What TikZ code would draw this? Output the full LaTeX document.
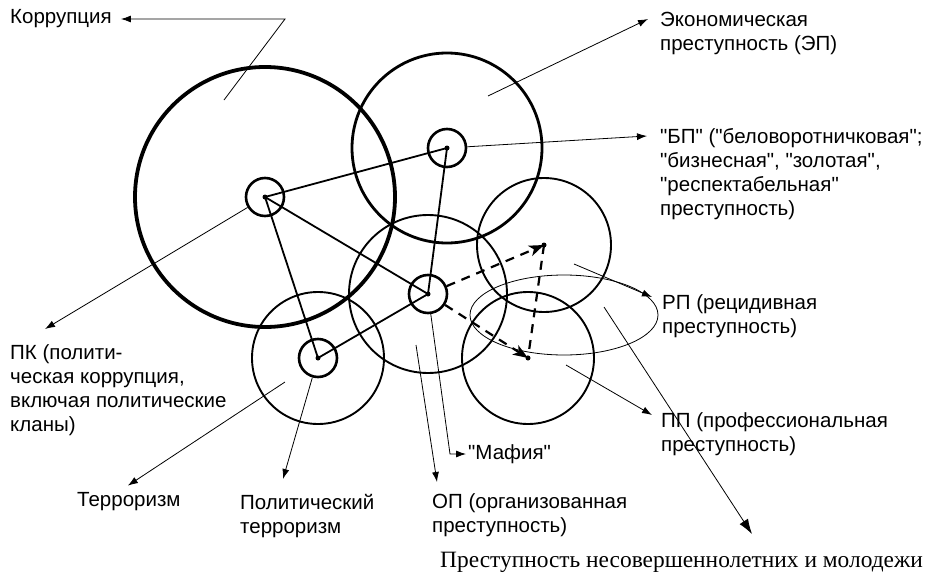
\documentclass[tikz,border=0pt]{standalone}
\usepackage{fontspec}
\setmainfont{Liberation Sans}
\font\labf="Liberation Sans" at 20.5pt
\font\serf="Liberation Serif" at 23.4pt
\usetikzlibrary{arrows.meta,calc}
\begin{document}
\begin{tikzpicture}[x=1pt,y=-1pt,
  ring/.style={circle,draw,inner sep=0pt,line width=1.9pt},
  hub/.style={circle,draw,inner sep=0pt,line width=2.6pt,minimum size=38pt},
  dot/.style={circle,fill,inner sep=0pt,minimum size=5pt},
  link/.style={line width=1.8pt},
  dasharr/.style={line width=2.2pt,dash pattern=on 9pt off 7pt,-{Stealth[length=15pt,width=11pt,inset=4pt]}},
  dashln/.style={line width=2.2pt,dash pattern=on 9pt off 7pt},
  ptr/.style={line width=0.8pt,-{Latex[length=10pt,width=7pt]}},
  bigptr/.style={line width=0.8pt,-{Latex[length=15pt,width=10pt]}},
  lab/.style={font={\labf\baselineskip=24pt},inner sep=0pt,align=left},
  slab/.style={font=\serf,inner sep=0pt}
]
\useasboundingbox (0,0) rectangle (932,573);

% centres
\coordinate (cPK) at (265,197);
\coordinate (cBP) at (447,148);
\coordinate (cOP) at (428,294);
\coordinate (cPT) at (318,358);
\coordinate (cRP) at (544,245);
\coordinate (cPP) at (528,358);

% large circles
\node[ring,line width=3.8pt,minimum size=260pt] (KOR) at (cPK) {};
\node[ring,line width=2.8pt,minimum size=190pt] (EP) at (cBP) {};
\node[ring,minimum size=158pt] (OPc) at (cOP) {};
\node[ring,minimum size=132pt] (TER) at (cPT) {};
\node[ring,minimum size=134pt] (RPc) at (cRP) {};
\node[ring,minimum size=132pt] (PPc) at (cPP) {};
\draw[line width=0.8pt] (564,315) ellipse [x radius=94, y radius=40];

% hubs
\node[hub] (sPK) at (cPK) {};
\node[hub] (sBP) at (cBP) {};
\node[hub] (sOP) at (cOP) {};
\node[hub] (sPT) at (cPT) {};

% links
\draw[link] (cPK) -- (cBP);
\draw[link] (cPK) -- (cOP);
\draw[link] (cPK) -- (cPT);
\draw[link] (cBP) -- (cOP);
\draw[link] (cOP) -- (cPT);
\draw[dasharr] (sOP) -- (cRP);
\draw[dasharr] (sOP) -- (cPP);
\draw[dashln] (cRP) -- (cPP);

\foreach \c in {cPK,cBP,cOP,cPT,cRP,cPP} \node[dot] at (\c) {};

% labels
\node[lab,anchor=west] (lKor) at (10,19) {Коррупция};
\node[lab,anchor=north west] (lEP) at (660,11.5) {Экономическая\\преступность (ЭП)};
\node[lab,anchor=north west] (lBP) at (660,128.5) {"БП" ("беловоротничковая";\\"бизнесная", "золотая",\\"респектабельная"\\преступность)};
\node[lab,anchor=north west] (lRP) at (662,294.5) {РП (рецидивная\\преступность)};
\node[lab,anchor=north west] (lPP) at (661,412.5) {ПП (профессиональная\\преступность)};
\node[lab,anchor=north west] (lOP) at (432,493.5) {ОП (организованная\\преступность)};
\node[lab,anchor=west] (lMaf) at (468,454) {"Мафия"};
\node[lab,anchor=north west] (lPT) at (240,494.5) {Политический\\терроризм};
\node[lab,anchor=west] (lTer) at (77,502) {Терроризм};
\node[lab,anchor=north west] (lPK) at (10,344.5) {ПК (полити-\\ческая коррупция,\\включая политические\\кланы)};
\node[slab,anchor=west] (lMol) at (440,562) {Преступность несовершеннолетних и молодежи};

% pointer start points
\coordinate (pKor) at (224,100);
\coordinate (kKor) at (285,19);
\coordinate (pEP) at (488,96);
\coordinate (pRP) at (574,264);
\coordinate (pPP) at (566,365);
\coordinate (pMol) at (604,307);
\coordinate (pOP) at (416,345);
\coordinate (pTer) at (285,382);
\coordinate (kMaf) at (450,454);

% pointers
\draw[ptr] (pKor) -- (kKor) -- ($(lKor.east)+(9,0)$);
\draw[ptr] (pEP) -- ($(lEP.north west)+(-12,7.5)$);
\draw[ptr] (sBP) -- ($(lBP.north west)+(-13,7.5)$);
\draw[ptr] (pRP) -- ($(lRP.north west)+(-10,2.5)$);
\draw[ptr] (pPP) -- ($(lPP.north west)+(-9,2.5)$);
\draw[bigptr] (pMol) -- ($(lMol.west)+(312,-28)$);
\draw[ptr] (pOP) -- ($(lOP.north west)+(5,-11.5)$);
\draw[ptr] (sOP) -- (kMaf) -- ($(lMaf.west)+(-2,0)$);
\draw[ptr] (sPT) -- ($(lPT.north west)+(43,-15.5)$);
\draw[ptr] (pTer) -- ($(lTer.north)+(-1,-7)$);
\draw[ptr] (sPK) -- ($(lPK.north west)+(35,-15.5)$);
\end{tikzpicture}
\end{document}
